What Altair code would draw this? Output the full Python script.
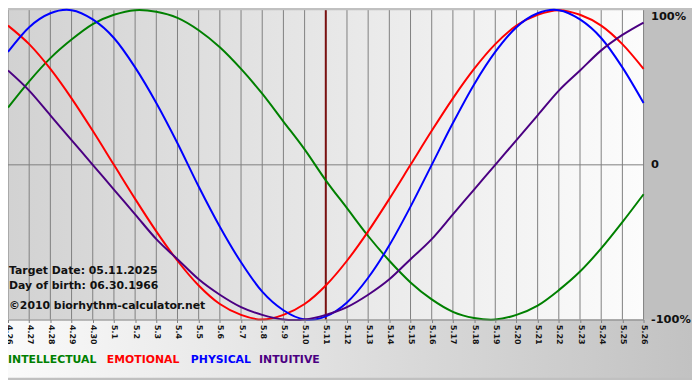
import altair as alt
import pandas as pd

days = ["4.26", "4.27", "4.28", "4.29", "4.30", "5.1", "5.2", "5.3", "5.4", "5.5",
        "5.6", "5.7", "5.8", "5.9", "5.10", "5.11", "5.12", "5.13", "5.14", "5.15",
        "5.16", "5.17", "5.18", "5.19", "5.20", "5.21", "5.22", "5.23", "5.24", "5.25", "5.26"]

intellectual = [0.37, 0.54, 0.69, 0.81, 0.91, 0.97, 1.00, 0.99, 0.95, 0.87,
                0.76, 0.62, 0.46, 0.28, 0.10, -0.10, -0.28, -0.46, -0.62, -0.76,
                -0.87, -0.95, -0.99, -1.00, -0.97, -0.91, -0.81, -0.69, -0.54, -0.37, -0.19]
emotional = [0.90, 0.78, 0.62, 0.43, 0.22, 0.00, -0.22, -0.43, -0.62, -0.78,
             -0.90, -0.97, -1.00, -0.97, -0.90, -0.78, -0.62, -0.43, -0.22, 0.00,
             0.22, 0.43, 0.62, 0.78, 0.90, 0.97, 1.00, 0.97, 0.90, 0.78, 0.62]
physical = [0.73, 0.89, 0.98, 1.00, 0.94, 0.82, 0.63, 0.40, 0.14, -0.14,
            -0.40, -0.63, -0.82, -0.94, -1.00, -0.98, -0.89, -0.73, -0.52, -0.27,
            0.00, 0.27, 0.52, 0.73, 0.89, 0.98, 1.00, 0.94, 0.82, 0.63, 0.40]
intuitive = [0.61, 0.48, 0.32, 0.16, 0.00, -0.16, -0.32, -0.48, -0.61, -0.74,
             -0.84, -0.92, -0.97, -1.00, -1.00, -0.97, -0.92, -0.84, -0.74, -0.61,
             -0.48, -0.32, -0.16, 0.00, 0.16, 0.32, 0.48, 0.61, 0.74, 0.84, 0.92]

series_names = ["INTELLECTUAL", "EMOTIONAL", "PHYSICAL", "INTUITIVE"]
series_colors = ["#008000", "#ff0000", "#0000ff", "#4b0082"]
series_values = [intellectual, emotional, physical, intuitive]

target_day = "5.11"
y_tick_values = [-1, 0, 1]
y_tick_labels = ["-100%", "0", "100%"]
info_lines = ["Target Date: 05.11.2025", "Day of birth: 06.30.1966", "\u00a92010 biorhythm-calculator.net"]

W, H = 643, 313
TOTAL_W, TOTAL_H = 692, 372

rows = []
for name, vals in zip(series_names, series_values):
    for d, v in zip(days, vals):
        rows.append({"day": d, "value": v, "series": name})
df = pd.DataFrame(rows)

x_scale = alt.Scale(type="point", padding=0, domain=days)
y_scale = alt.Scale(domain=[-1, 1], nice=False)

label_expr = " : ".join(
    f"datum.value == {v} ? '{t}'" for v, t in zip(y_tick_values, y_tick_labels)
) + " : ''"

x_axis = alt.Axis(labelAngle=90, labelFont="DejaVu Sans", labelFontSize=8,
                  labelFontWeight="bold", labelColor="#111111", grid=False, ticks=True,
                  tickSize=3, tickColor="#808080", domainColor="#808080", labelPadding=2,
                  labelOverlap=False, zindex=1, title=None)
y_axis = alt.Axis(orient="right", values=y_tick_values, labelExpr=label_expr,
                  grid=False, ticks=False, domain=False, labelFont="DejaVu Sans",
                  labelFontSize=11.5, labelFontWeight="bold", labelColor="#111111",
                  labelPadding=7, zindex=1, title=None,
                  labelBaseline={"condition": {"test": "datum.value == 1", "value": "top"},
                                 "value": "middle"})

X = lambda f: alt.X(f, scale=x_scale, sort=days, axis=x_axis, title=None)
Y = lambda f: alt.Y(f, scale=y_scale, axis=y_axis, title=None)

plot_grad = alt.LinearGradient(
    gradient="linear",
    stops=[alt.GradientStop(offset=0, color="#d2d2d2"), alt.GradientStop(offset=1, color="#fcfcfc")],
    x1=0, x2=1, y1=0, y2=0,
)
band_grad = alt.LinearGradient(
    gradient="linear",
    stops=[alt.GradientStop(offset=0, color="#fafafa"), alt.GradientStop(offset=1, color="#c2c2c2")],
    x1=0, x2=1, y1=0, y2=0,
)

one = alt.Data(values=[{}])

bg = alt.Chart(one).mark_rect(color=plot_grad).encode(
    x=alt.value(0), x2=alt.value(W), y=alt.value(0), y2=alt.value(H)
)
band = alt.Chart(one).mark_rect(color=band_grad).encode(
    x=alt.value(0), x2=alt.value(TOTAL_W), y=alt.value(H), y2=alt.value(TOTAL_H)
)

grid = alt.Chart(pd.DataFrame({"day": days})).mark_rule(color="#808080", strokeWidth=1).encode(
    x=X("day:O")
)
zero = alt.Chart(pd.DataFrame({"v": [0]})).mark_rule(color="#808080", strokeWidth=1).encode(
    y=Y("v:Q")
)
target = alt.Chart(pd.DataFrame({"day": [target_day]})).mark_rule(color="#7a1010", strokeWidth=2).encode(
    x=X("day:O")
)

lines = alt.Chart(df).mark_line(strokeWidth=2, interpolate="cardinal").encode(
    x=X("day:O"),
    y=Y("value:Q"),
    color=alt.Color("series:N", scale=alt.Scale(domain=series_names, range=series_colors), legend=None),
    detail="series:N",
)

info = alt.Chart(pd.DataFrame({"t": info_lines, "yy": [264, 279, 299]})).mark_text(
    align="left", baseline="middle", font="DejaVu Sans", fontSize=11, fontWeight="bold", color="#111111"
).encode(x=alt.value(1), y=alt.Y("yy:Q", scale=None), text="t:N")

legend_x = [0, 100, 185, 254]
legend_df = pd.DataFrame({"name": series_names, "lx": legend_x})
legend = alt.Chart(legend_df).mark_text(
    align="left", baseline="middle", font="DejaVu Sans", fontSize=11, fontWeight="bold"
).encode(
    x=alt.X("lx:Q", scale=None),
    y=alt.value(354),
    text="name:N",
    color=alt.Color("name:N", scale=alt.Scale(domain=series_names, range=series_colors), legend=None),
)

chart = alt.layer(bg, band, grid, zero, target, lines, info, legend).resolve_scale(
    color="independent"
).properties(
    width=W, height=H,
    autosize=alt.AutoSizeParams(type="none"),
    padding={"left": 0, "top": 0, "right": TOTAL_W - W, "bottom": TOTAL_H - H},
).configure(background="#c0c0c0").configure_view(stroke=None)

chart.save("out.html", embed_options={"renderer": "svg", "actions": False})
